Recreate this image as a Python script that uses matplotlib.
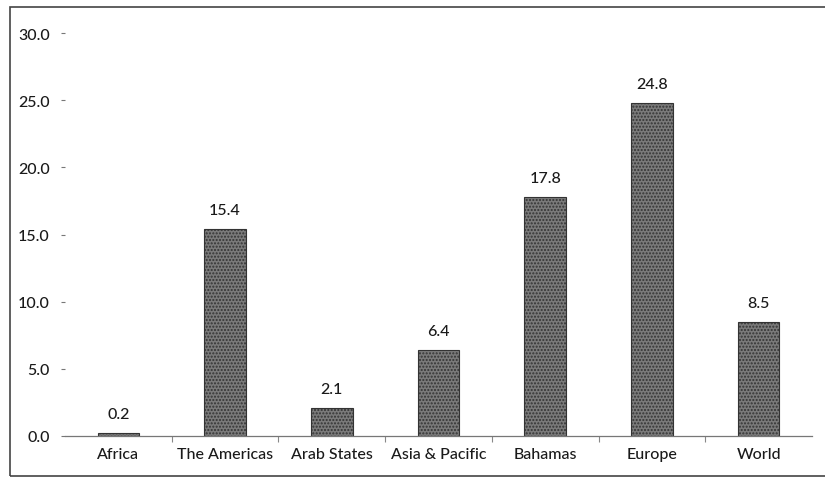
import matplotlib
matplotlib.use("Agg")
import matplotlib.pyplot as plt
from matplotlib.patches import Rectangle
import numpy as np

categories = ["Africa", "The Americas", "Arab States", "Asia & Pacific", "Bahamas", "Europe", "World"]
values = [0.2, 15.4, 2.1, 6.4, 17.8, 24.8, 8.5]
yticks = [0, 5, 10, 15, 20, 25, 30]

plt.rcParams['font.family'] = ['Lato', 'DejaVu Sans']

fig = plt.figure(figsize=(8.25, 4.81), dpi=100)
ax = fig.add_axes([65 / 825, 44 / 481, 747 / 825, 403 / 481])

x = np.arange(len(categories))
ax.bar(x, values, width=0.39, color='#7a7a7a', edgecolor='#333333',
       linewidth=0.8, hatch='.....', zorder=2)

for xi, v in zip(x, values):
    ax.text(xi, v + 0.9, f"{v:.1f}", ha='center', va='bottom', fontsize=11.5,
            color='#1a1a1a', fontweight='medium')

ax.set_xlim(-0.5, len(categories) - 0.5)
ax.set_ylim(0, 30)
ax.set_yticks(yticks)
ax.set_yticklabels([f"{t:.1f}" for t in yticks], fontsize=11.5, color='#1a1a1a',
                   fontweight='medium')
ax.set_xticks(x)
ax.set_xticklabels(categories, fontsize=11.5, color='#1a1a1a', fontweight='medium')
ax.tick_params(axis='x', length=0, pad=8)
ax.tick_params(axis='y', length=3, width=0.8, color='#777777', pad=8, direction='out')

# minor ticks on the category boundaries
ax.set_xticks(np.arange(0.5, len(categories) - 0.5, 1.0), minor=True)
ax.tick_params(axis='x', which='minor', length=4, width=0.8, color='#888888')

for s in ['top', 'right', 'left']:
    ax.spines[s].set_visible(False)
ax.spines['bottom'].set_color('#777777')
ax.spines['bottom'].set_linestyle((0, (2, 1)))
ax.spines['bottom'].set_linewidth(0.9)

# outer chart border (right side runs off the edge of the figure)
fig.patches.append(Rectangle((10 / 825, 4 / 481), 830 / 825, 469 / 481,
                             transform=fig.transFigure, fill=False,
                             edgecolor='#444444', linewidth=1.2))

fig.savefig("out.png", dpi=100)
